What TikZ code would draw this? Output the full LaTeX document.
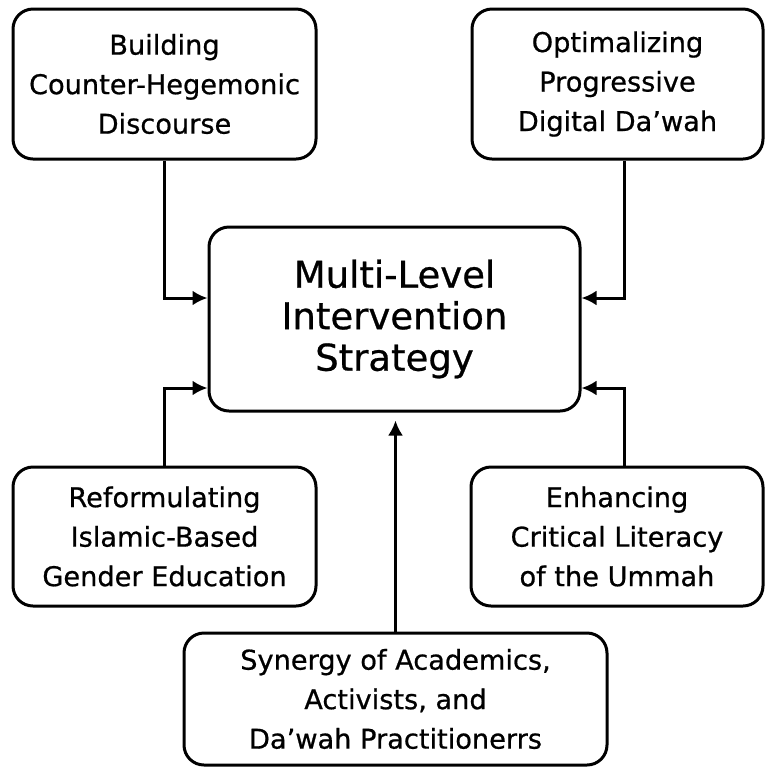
\documentclass[tikz,border=0pt]{standalone}
\usepackage{fontspec}
\setmainfont{DejaVu Sans}
\newfontfamily\lblfont[FakeBold=0.7]{DejaVu Sans}
\usetikzlibrary{arrows.meta,calc}
\begin{document}
\begin{tikzpicture}[x=0.5pt,y=-0.5pt,
  box/.style={draw, line width=1.5pt, rounded corners=10pt, align=center,
    inner sep=0pt, font=\lblfont\fontsize{13.6}{19.75}\selectfont},
  mainbox/.style={box, font=\lblfont\fontsize{18.5}{20.75}\selectfont},
  arr/.style={line width=1.5pt, -{Latex[length=7.5pt,width=7.5pt]}}]
\useasboundingbox (0,0) rectangle (766,768);
\node[box, minimum width=151.5pt, minimum height=75pt] (TL) at (164.5,84)
  {Building\\Counter-Hegemonic\\Discourse};
\node[box, minimum width=145.5pt, minimum height=75pt] (TR) at (617.5,84)
  {Optimalizing\\Progressive\\Digital Da’wah};
\node[mainbox, minimum width=185.5pt, minimum height=92pt] (C) at (394.5,319)
  {Multi-Level\\Intervention\\Strategy};
\node[box, minimum width=151.5pt, minimum height=69.5pt] (BL) at (164.5,536.5)
  {Reformulating\\Islamic-Based\\Gender Education};
\node[box, minimum width=146pt, minimum height=69.5pt] (BR) at (617,536.5)
  {Enhancing\\Critical Literacy\\of the Ummah};
\node[box, minimum width=211.5pt, minimum height=66pt] (B) at (395.5,699)
  {Synergy of Academics,\\Activists, and\\Da’wah Practitionerrs};
\draw[arr] (TL.south) |- ($(C.west)+(0,-21)$);
\draw[arr] ($(TR.south)+(6.5,0)$) |- ($(C.east)+(0,-21)$);
\draw[arr] (BL.north) |- ($(C.west)+(0,69)$);
\draw[arr] ($(BR.north)+(7,0)$) |- ($(C.east)+(0,69)$);
\draw[arr, shorten >=4pt] (B.north) -- (B.north |- C.south);
\end{tikzpicture}
\end{document}
